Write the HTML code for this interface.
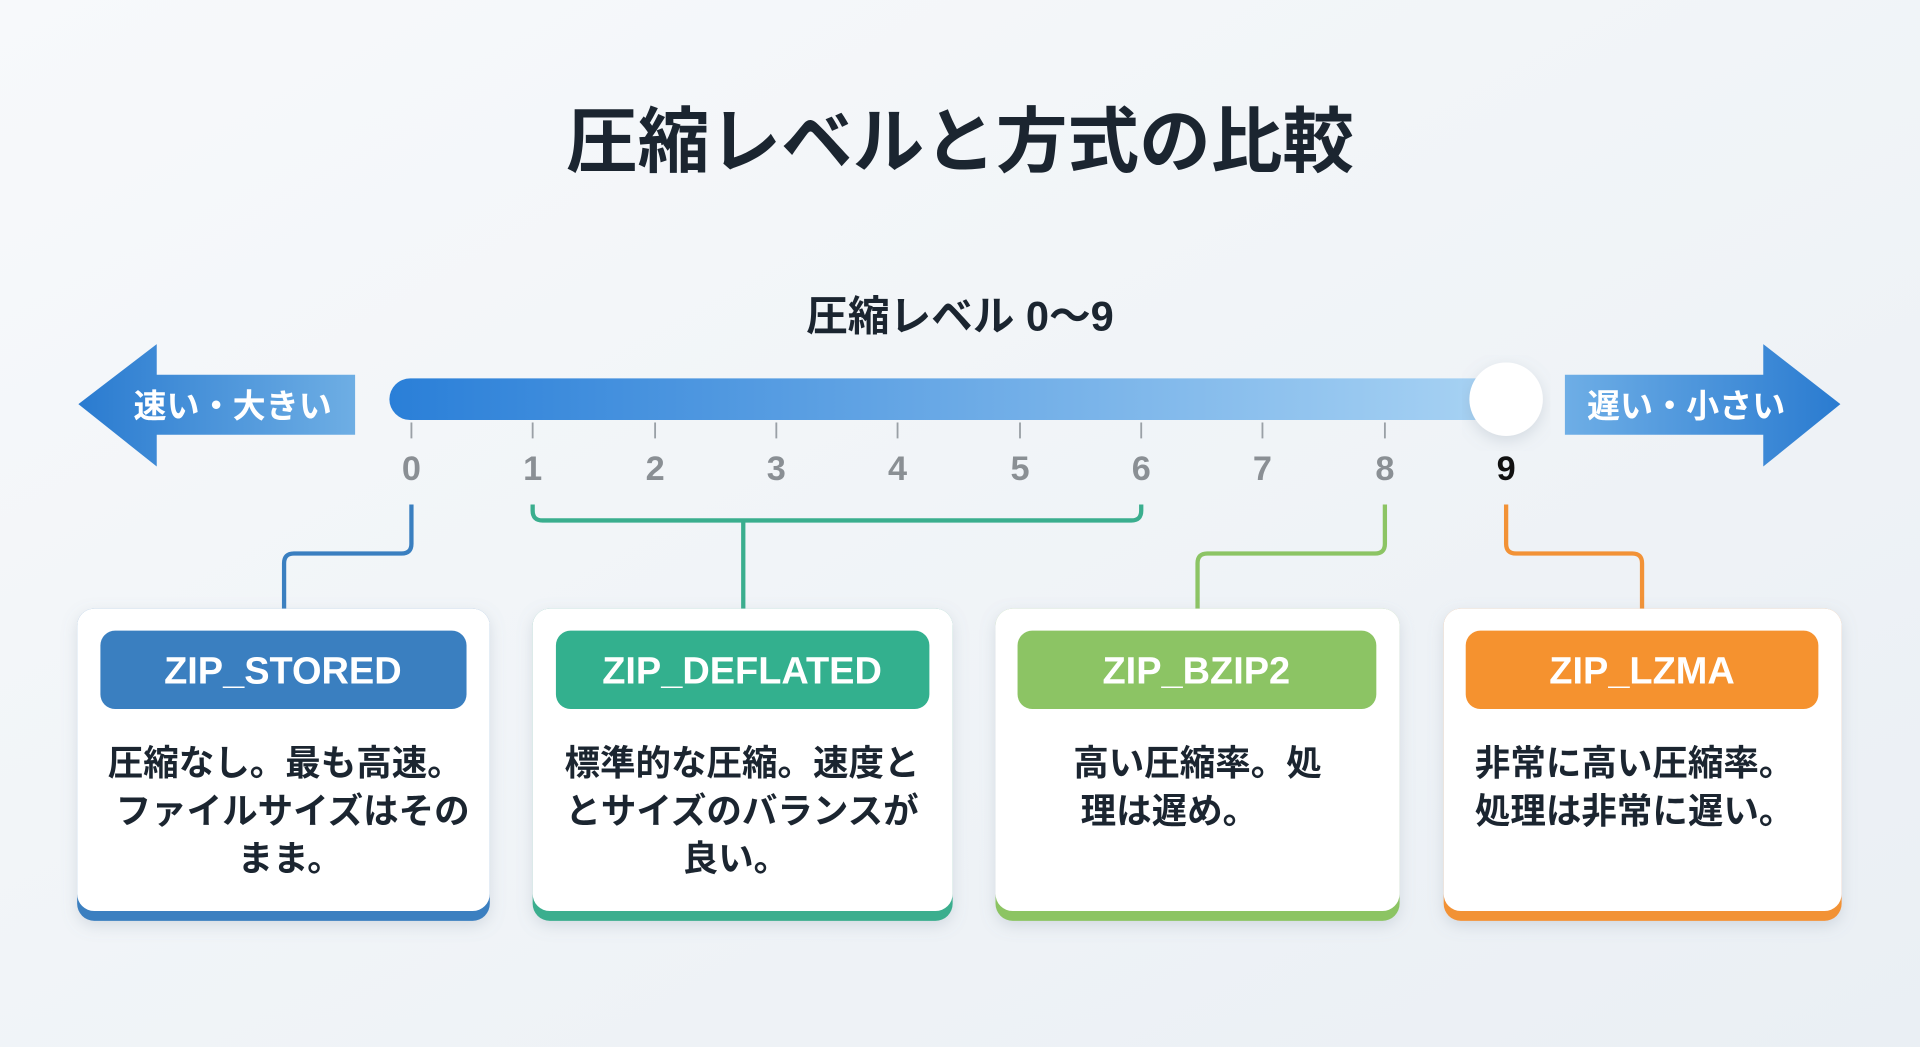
<!DOCTYPE html>
<html><head><meta charset="utf-8"><style>
html,body{margin:0;padding:0;width:1920px;height:1047px;overflow:hidden;background:#f1f4f8}
svg{display:block}
text{font-family:"Liberation Sans","Noto Sans CJK JP",sans-serif}
</style></head><body>
<svg width="1920" height="1047" viewBox="0 0 1568 855" xmlns="http://www.w3.org/2000/svg">
<defs>
<linearGradient id="bg" x1="0" y1="0" x2="1" y2="1"><stop offset="0" stop-color="#f7f9fb"/><stop offset="1" stop-color="#eaeff4"/></linearGradient>
<linearGradient id="bar" x1="0" x2="1"><stop offset="0" stop-color="#2a7fd8"/><stop offset="1" stop-color="#aad4f4"/></linearGradient>
<linearGradient id="la" x1="0" x2="1"><stop offset="0" stop-color="#2a7bd0"/><stop offset="1" stop-color="#6eaee4"/></linearGradient>
<linearGradient id="ra" x1="0" x2="1"><stop offset="0" stop-color="#6eaee6"/><stop offset="1" stop-color="#2a7bd0"/></linearGradient>
<filter id="sh" x="-10%" y="-10%" width="120%" height="130%"><feDropShadow dx="0" dy="4" stdDeviation="6" flood-color="#8090a0" flood-opacity="0.25"/></filter>
</defs>
<rect width="1568" height="855" fill="url(#bg)"/>
<text x="784" y="136" text-anchor="middle" font-size="58.5" font-weight="bold" fill="#1b2530">圧縮レベルと方式の比較</text>
<text x="784" y="270" text-anchor="middle" font-size="34" font-weight="bold" fill="#1b2530">圧縮レベル 0〜9</text>
<polygon points="64,330 128,281 128,306 290,306 290,355 128,355 128,381" fill="url(#la)"/>
<text x="190" y="341" text-anchor="middle" font-size="27" font-weight="bold" fill="#fff">速い・大きい</text>
<polygon points="1503,330 1440,281 1440,306 1278,306 1278,355 1440,355 1440,381" fill="url(#ra)"/>
<text x="1377" y="341" text-anchor="middle" font-size="27" font-weight="bold" fill="#fff">遅い・小さい</text>
<rect x="318" y="309" width="920" height="34" rx="17" fill="url(#bar)"/>
<circle cx="1230" cy="326" r="30" fill="#fff" filter="url(#sh)"/>
<g stroke="#9aa0a6" stroke-width="1.5">
<line x1="336" y1="345" x2="336" y2="358"/><line x1="435" y1="345" x2="435" y2="358"/><line x1="535" y1="345" x2="535" y2="358"/><line x1="634" y1="345" x2="634" y2="358"/><line x1="733" y1="345" x2="733" y2="358"/><line x1="833" y1="345" x2="833" y2="358"/><line x1="932" y1="345" x2="932" y2="358"/><line x1="1031" y1="345" x2="1031" y2="358"/><line x1="1131" y1="345" x2="1131" y2="358"/>
</g>
<g font-size="28" font-weight="bold" fill="#8a8f94" text-anchor="middle">
<text x="336" y="392">0</text><text x="435" y="392">1</text><text x="535" y="392">2</text><text x="634" y="392">3</text><text x="733" y="392">4</text><text x="833" y="392">5</text><text x="932" y="392">6</text><text x="1031" y="392">7</text><text x="1131" y="392">8</text><text x="1230" y="392" fill="#111">9</text>
</g>
<g fill="none" stroke-width="3.5" stroke-linejoin="round">
<path d="M336,412 V444 Q336,452 328,452 H240 Q232,452 232,460 V497" stroke="#3a7fc0"/>
<path d="M435,412 V417 Q435,425 443,425 H924 Q932,425 932,417 V412 M607,425 V497" stroke="#3aae8e"/>
<path d="M1131,412 V444 Q1131,452 1123,452 H986 Q978,452 978,460 V497" stroke="#8cc464"/>
<path d="M1230,412 V444 Q1230,452 1238,452 H1333 Q1341,452 1341,460 V497" stroke="#f29236"/>
</g>
<g filter="url(#sh)">
<rect x="63" y="497" width="337" height="255" rx="14" fill="#3a7fc0"/>
<rect x="435" y="497" width="343" height="255" rx="14" fill="#3aae8e"/>
<rect x="813" y="497" width="330" height="255" rx="14" fill="#8cc464"/>
<rect x="1179" y="497" width="325" height="255" rx="14" fill="#f29236"/>
</g>
<rect x="63" y="497" width="337" height="247" rx="14" fill="#fff"/>
<rect x="435" y="497" width="343" height="247" rx="14" fill="#fff"/>
<rect x="813" y="497" width="330" height="247" rx="14" fill="#fff"/>
<rect x="1179" y="497" width="325" height="247" rx="14" fill="#fff"/>
<rect x="82" y="515" width="299" height="64" rx="12" fill="#3a7fc0"/>
<rect x="454" y="515" width="305" height="64" rx="12" fill="#33b08e"/>
<rect x="831" y="515" width="293" height="64" rx="12" fill="#8cc464"/>
<rect x="1197" y="515" width="288" height="64" rx="12" fill="#f5922f"/>
<g font-size="31" font-weight="bold" fill="#fff" text-anchor="middle">
<text x="231" y="558">ZIP_STORED</text>
<text x="606" y="558">ZIP_DEFLATED</text>
<text x="977" y="558">ZIP_BZIP2</text>
<text x="1341" y="558">ZIP_LZMA</text>
</g>
<g font-size="29" font-weight="bold" fill="#1b2530" text-anchor="middle">
<text x="233" y="633">圧縮なし。最も高速。</text>
<text x="239" y="672">ファイルサイズはその</text>
<text x="237" y="711">まま。</text>
<text x="606" y="633">標準的な圧縮。速度と</text>
<text x="606" y="672">とサイズのバランスが</text>
<text x="601" y="711">良い。</text>
<text x="978" y="633">高い圧縮率。処</text>
<text x="955" y="672">理は遅め。</text>
<text x="1335" y="633">非常に高い圧縮率。</text>
<text x="1335" y="672">処理は非常に遅い。</text>
</g>
</svg>
</body></html>
